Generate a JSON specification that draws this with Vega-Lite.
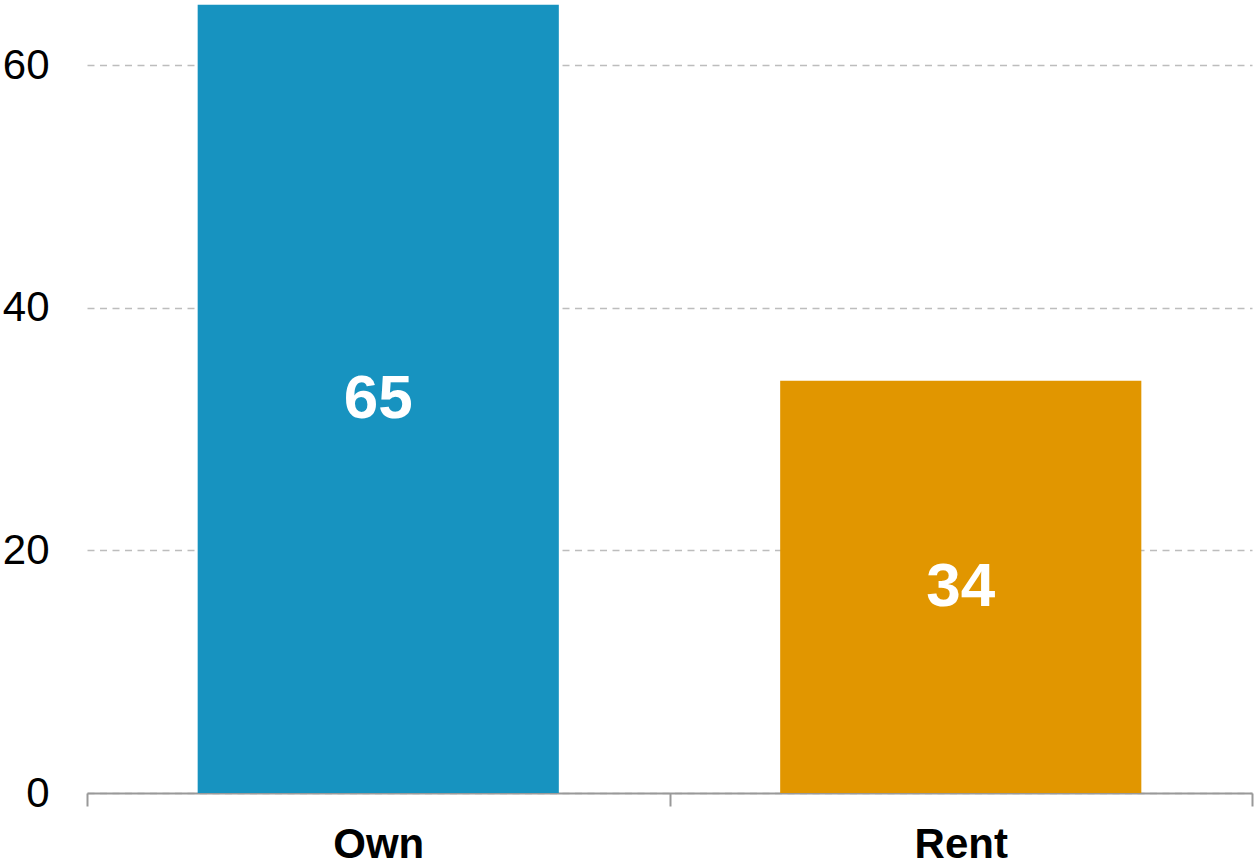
{
  "$schema": "https://vega.github.io/schema/vega-lite/v6.json",
  "width": 1165,
  "height": 793,
  "autosize": "none",
  "padding": {"left": 87, "top": 0, "right": 3, "bottom": 72},
  "background": "white",
  "config": {
    "view": {"stroke": null},
    "font": "Liberation Sans"
  },
  "data": {
    "values": [
      {"tenure": "Own", "value": 65},
      {"tenure": "Rent", "value": 34}
    ]
  },
  "encoding": {
    "x": {
      "field": "tenure",
      "type": "nominal",
      "sort": null,
      "scale": {"paddingInner": 0, "paddingOuter": 0},
      "axis": {
        "title": null,
        "labelAngle": 0,
        "labelFont": "Liberation Sans",
        "labelFontSize": 42,
        "labelFontWeight": "bold",
        "labelColor": "black",
        "labelPadding": 18,
        "tickBand": "extent",
        "tickSize": 13,
        "tickWidth": 2,
        "tickColor": "#999999",
        "domainColor": "#999999",
        "domainWidth": 2,
        "grid": false
      }
    }
  },
  "layer": [
    {
      "mark": {"type": "bar", "width": {"band": 0.62}},
      "encoding": {
        "y": {
          "field": "value",
          "type": "quantitative",
          "scale": {"domain": [0, 65.4], "nice": false},
          "axis": {
            "title": null,
            "values": [0, 20, 40, 60],
            "domain": false,
            "ticks": false,
            "labelFont": "Liberation Sans",
            "labelFontSize": 42,
            "labelColor": "black",
            "labelPadding": 38,
            "grid": true,
            "gridColor": "#bdbdbd",
            "gridDash": [7, 5.5],
            "gridWidth": 1.5
          }
        },
        "color": {
          "field": "tenure",
          "type": "nominal",
          "scale": {"domain": ["Own", "Rent"], "range": ["#1793C0", "#E19600"]},
          "legend": null
        }
      }
    },
    {
      "transform": [{"calculate": "datum.value / 2", "as": "labelPos"}],
      "mark": {"type": "text", "color": "white", "fontWeight": "bold", "fontSize": 62, "baseline": "middle", "font": "Liberation Sans"},
      "encoding": {
        "y": {"field": "labelPos", "type": "quantitative"},
        "text": {"field": "value", "type": "quantitative"}
      }
    }
  ]
}
